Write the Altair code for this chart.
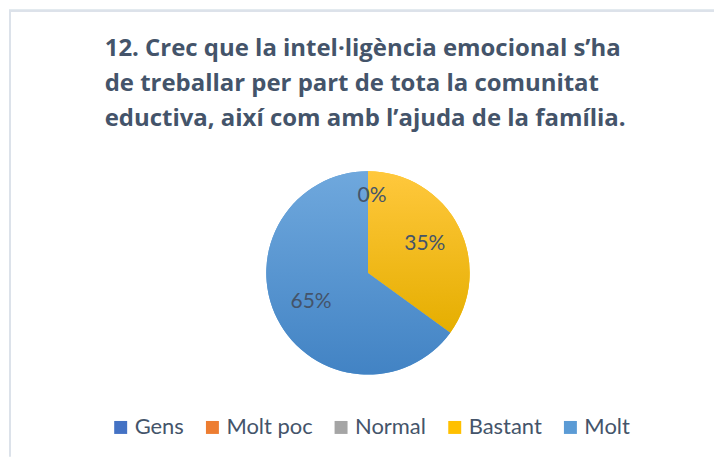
import altair as alt
import pandas as pd

# ---- data ----
categories = ["Gens", "Molt poc", "Normal", "Bastant", "Molt"]
values = [0, 0, 0, 35, 65]
colors = ["#4472C4", "#ED7D31", "#A5A5A5", "#FFC000", "#5B9BD5"]
title_lines = [
    "12. Crec que la intel·ligència emocional s’ha",
    "de treballar per part de tota la comunitat",
    "eductiva, així com amb l’ajuda de la família.",
]

df = pd.DataFrame({"cat": categories, "value": values, "idx": list(range(len(categories)))})

TEXT = "#44546A"
FONT = "Lato"
VIEW_W, VIEW_H = 707, 447
CX, CY, R = 360, 263, 102

base = alt.Chart(df).encode(
    theta=alt.Theta("value:Q", stack=True),
    order=alt.Order("idx:Q"),
)

pie = base.mark_arc(outerRadius=R).encode(
    x=alt.value(CX),
    y=alt.value(CY),
    color=alt.Color(
        "cat:N",
        scale=alt.Scale(domain=categories, range=colors),
        sort=categories,
        legend=alt.Legend(
            title=None,
            orient="none",
            legendX=101,
            legendY=407,
            direction="horizontal",
            columns=5,
            symbolType="square",
            symbolSize=169,
            symbolStrokeWidth=0,
            labelFont=FONT,
            labelFontSize=22,
            labelColor=TEXT,
            labelOffset=3,
            columnPadding=17,
        ),
    ),
)

grad_yellow = {
    "gradient": "linear", "x1": 0, "y1": 0, "x2": 0, "y2": 1,
    "stops": [{"offset": 0, "color": "#FFC83D"}, {"offset": 1, "color": "#E5AE00"}],
}
grad_blue = {
    "gradient": "linear", "x1": 0, "y1": 0, "x2": 0, "y2": 1,
    "stops": [{"offset": 0, "color": "#6FA8DD"}, {"offset": 1, "color": "#4283C4"}],
}

shade = base.mark_arc(outerRadius=R).encode(
    x=alt.value(CX),
    y=alt.value(CY),
    color=alt.Color(
        value="transparent",
        condition=[
            {"test": "datum.cat === 'Bastant'", "value": grad_yellow},
            {"test": "datum.cat === 'Molt'", "value": grad_blue},
        ],
    ),
)

labels_main = base.mark_text(radius=64, font=FONT, fontSize=21, color=TEXT).encode(
    x=alt.value(CX),
    y=alt.value(CY),
    text="lbl:N",
).transform_calculate(lbl="datum.value > 0 ? datum.value + '%' : ''")

labels_zero = base.mark_text(radius=77, font=FONT, fontSize=21, color=TEXT, dx=4).encode(
    x=alt.value(CX),
    y=alt.value(CY),
    text="lbl:N",
).transform_calculate(lbl="datum.idx === 0 ? datum.value + '%' : ''")

border_top = alt.Chart(df).mark_rule(color="#DCE2EA", strokeWidth=2).encode(
    x=alt.value(0), x2=alt.value(VIEW_W), y=alt.value(0)
)
border_left = alt.Chart(df).mark_rule(color="#DCE2EA", strokeWidth=2).encode(
    x=alt.value(1), y=alt.value(0), y2=alt.value(VIEW_H)
)

chart = alt.layer(border_top, border_left, pie, shade, labels_main, labels_zero).properties(
    width=VIEW_W,
    height=VIEW_H,
    padding={"top": 1, "left": 0, "right": 0, "bottom": 0},
    title=alt.TitleParams(
        text=title_lines,
        anchor="start",
        frame="group",
        dx=96,
        dy=122,
        font="Open Sans",
        fontSize=24,
        fontWeight="bold",
        color=TEXT,
        lineHeight=35.5,
        offset=0,
    ),
).configure_view(stroke=None)

chart.save("out.html", embed_options={"renderer": "svg", "actions": False})
